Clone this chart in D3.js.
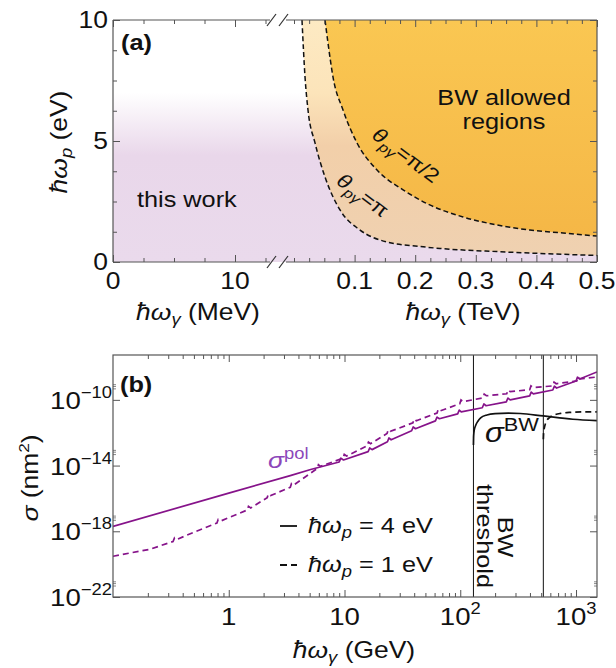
<!DOCTYPE html>
<html>
<head>
<meta charset="utf-8">
<script src="https://cdnjs.cloudflare.com/ajax/libs/d3/7.8.5/d3.min.js"></script>
<style>
  body { margin: 0; background: #fff; }
  svg { display: block; font-family: "Liberation Sans", Arial, sans-serif; }
</style>
</head>
<body>
<script>
// ---- data ----

// (a) boundaries of the BW allowed region: photon energy (TeV), plasmon energy (eV)
const thetaPi = [[0.0132, 10], [0.0182, 7.64], [0.0231, 6.28], [0.0347, 4.92], [0.0512, 3.51],
  [0.0759, 2.15], [0.109, 1.32], [0.153, 0.83], [0.208, 0.64], [0.241, 0.56], [0.335, 0.43], [0.5, 0.27]];
const thetaHalfPi = [[0.0512, 10], [0.0561, 9.05], [0.0644, 7.64], [0.0809, 6.28], [0.104, 4.92],
  [0.137, 3.80], [0.180, 2.98], [0.224, 2.36], [0.279, 1.86], [0.335, 1.53], [0.389, 1.32],
  [0.444, 1.20], [0.5, 1.07]];

// (b) cross sections: photon energy (GeV), log10 sigma (nm^2)
const polOmega4 = [[0.1, -17.70], [1, -15.68], [3.4, -14.61], [5.1, -14.24],
  [9.0, -13.78], [9.3, -13.55], [9.8, -13.66],
  [16.0, -13.15], [16.5, -12.93], [17.3, -13.03],
  [23.5, -12.55], [24.2, -12.32], [25.3, -12.43],
  [38, -11.88], [39.2, -11.65], [41, -11.76],
  [61, -11.28], [63, -11.05], [66, -11.15],
  [95, -10.85], [98, -10.62], [102, -10.73],
  [155, -10.48], [160, -10.25], [167, -10.36],
  [250, -10.12], [258, -9.89], [270, -10.0],
  [398, -9.76], [410, -9.53], [428, -9.64],
  [630, -9.40], [650, -9.17], [680, -9.28],
  [1000, -8.85], [1030, -8.62], [1075, -8.73],
  [1518, -8.30]];
const polOmega1 = [[0.1, -19.52], [0.21, -19.09],
  [0.33, -18.62], [0.34, -18.40], [0.355, -18.50],
  [0.5, -18.06],
  [0.79, -17.50], [0.81, -17.28], [0.85, -17.38],
  [1.45, -16.70], [1.48, -16.48], [1.55, -16.58],
  [2.15, -15.95], [2.2, -15.73], [2.3, -15.83],
  [3.4, -15.32], [3.48, -15.10], [3.62, -15.2],
  [5.8, -14.18], [5.95, -13.95], [6.2, -14.05],
  [9.7, -13.55], [9.95, -13.32], [10.4, -13.42],
  [15.7, -12.80], [16.1, -12.57], [16.8, -12.67],
  [23.3, -12.05], [23.9, -11.82], [24.9, -11.92],
  [39, -11.40], [40, -11.17], [41.7, -11.27],
  [63, -10.80], [64.6, -10.57], [67.3, -10.67],
  [99, -10.24], [101.5, -10.01], [106, -10.11],
  [157, -9.88], [161, -9.65], [168, -9.75],
  [252, -9.63], [259, -9.40], [270, -9.50],
  [398, -9.38], [408, -9.15], [426, -9.25],
  [630, -9.15], [646, -8.92], [674, -9.02],
  [1015, -8.85], [1040, -8.62], [1085, -8.72],
  [1518, -8.61]];
const bwOmega4 = [[130, -12.75], [130.5, -12.2], [132, -11.85], [136, -11.55], [142, -11.3],
  [150, -11.1], [170, -10.92], [200, -10.84], [260, -10.81], [330, -10.83], [520, -10.98],
  [940, -11.18], [1518, -11.27]];
const bwOmega1 = [[522, -12.4], [525, -12.0], [535, -11.65], [555, -11.3], [590, -11.08],
  [650, -10.92], [740, -10.82], [900, -10.76], [1200, -10.73], [1518, -10.73]];
const bwThresholds = [130, 522];

// ticks
const yTicksA = [0, 5, 10];
const yMinorA = [1.25, 2.5, 3.75, 6.25, 7.5, 8.75];
const xTicksMeV = [0, 10];
const xMinorMeV = [2.5, 5, 7.5, 12.5];
const xTicksTeV = [0.1, 0.2, 0.3, 0.4, 0.5];
const xTicksGeV = [1, 10, 100, 1000];
const yTicksSigma = [-22, -18, -14, -10];

// ---- setup ----
const W = 616, H = 668, SX = 1.15;
const svg = d3.select("body").append("svg").attr("width", W).attr("height", H);
const defs = svg.append("defs");

function grad(id, y1, y2, stops) {
  const g = defs.append("linearGradient").attr("id", id).attr("gradientUnits", "userSpaceOnUse")
    .attr("x1", 0).attr("x2", 0).attr("y1", y1).attr("y2", y2);
  stops.forEach(([o, c]) => g.append("stop").attr("offset", o).attr("stop-color", c));
}

// text with a slightly wide face like the original
function txt(parent, x, y, size, opts = {}) {
  const t = parent.append("text")
    .attr("transform", `translate(${x},${y}) rotate(${opts.rotate || 0}) scale(${SX},1)`)
    .attr("font-size", size)
    .attr("text-anchor", opts.anchor || "start")
    .attr("fill", opts.fill || "#111");
  if (opts.weight) t.attr("font-weight", opts.weight);
  return t;
}
function span(t, s, o = {}) {
  const ts = t.append("tspan").text(s);
  if (o.italic) ts.attr("font-style", "italic");
  if (o.size) ts.attr("font-size", o.size);
  if (o.dy) ts.attr("dy", o.dy);
  return ts;
}
function tickLayer(g, axis, pos, scale, vals, size, sw = 1) {
  const a = g.append("g").attr("transform", pos)
    .call(axis(scale).tickValues(vals).tickSize(-size).tickFormat(""));
  a.select(".domain").remove();
  a.selectAll("line").attr("stroke", "#555").attr("stroke-width", sw);
}

// ================= panel (a) =================
const xMeV = d3.scaleLinear().domain([0, 10]).range([113, 235]);
const xTeV = d3.scaleLinear().domain([0, 0.5]).range([294, 597]);
const yA = d3.scaleLinear().domain([0, 10]).range([262, 20]);
const gA = svg.append("g");

grad("gWork", yA(10), yA(0), [[0, "#ffffff"], [0.3, "#ffffff"], [0.56, "#e9d7ea"], [1, "#eadaec"]]);
grad("gBetween", yA(10), yA(0), [[0, "#fdeac3"], [0.3, "#fce4ba"], [0.52, "#f2cfa9"], [1, "#efd1b1"]]);
grad("gOrange", yA(10), yA(0), [[0, "#fac752"], [1, "#f4b545"]]);

gA.append("rect").attr("x", 113).attr("y", yA(10)).attr("width", 597 - 113).attr("height", yA(0) - yA(10))
  .attr("fill", "url(#gWork)");

const areaTop = d3.area().x(d => xTeV(d[0])).y0(d => yA(d[1])).y1(yA(10)).curve(d3.curveMonotoneX);
const lineA = d3.line().x(d => xTeV(d[0])).y(d => yA(d[1])).curve(d3.curveMonotoneX);
gA.append("path").datum(thetaPi).attr("d", areaTop).attr("fill", "url(#gBetween)");
gA.append("path").datum(thetaHalfPi).attr("d", areaTop).attr("fill", "url(#gOrange)");
[thetaPi, thetaHalfPi].forEach(c => {
  gA.append("path").datum(c).attr("d", lineA).attr("fill", "none")
    .attr("stroke", "#111").attr("stroke-width", 1.5).attr("stroke-dasharray", "5,3");
});

// ticks
tickLayer(gA, d3.axisLeft, "translate(113,0)", yA, yTicksA, 7);
tickLayer(gA, d3.axisLeft, "translate(113,0)", yA, yMinorA, 4);
tickLayer(gA, d3.axisRight, "translate(597,0)", yA, yTicksA, 7);
tickLayer(gA, d3.axisRight, "translate(597,0)", yA, yMinorA, 4);
const xMinorTeV = d3.range(0, 0.5, 0.025).filter(v => Math.abs(v * 10 - Math.round(v * 10)) > 1e-6 || v === 0);
[["axisBottom", 262], ["axisTop", 20]].forEach(([ax, y]) => {
  tickLayer(gA, d3[ax], `translate(0,${y})`, xMeV, xTicksMeV, 7);
  tickLayer(gA, d3[ax], `translate(0,${y})`, xMeV, xMinorMeV, 4);
  tickLayer(gA, d3[ax], `translate(0,${y})`, xTeV, xTicksTeV, 7);
  tickLayer(gA, d3[ax], `translate(0,${y})`, xTeV, xMinorTeV, 4);
});

// frame with axis break
const frameA = [[113, 20, 113, 262], [597, 20, 597, 262], [113, 20, 270, 20], [286, 20, 597, 20],
  [113, 262, 270, 262], [286, 262, 597, 262]];
frameA.forEach(([x1, y1, x2, y2]) => gA.append("line").attr("x1", x1).attr("y1", y1).attr("x2", x2).attr("y2", y2)
  .attr("stroke", "#555").attr("stroke-width", 1.2));
[20, 262].forEach(y => {
  [267, 279].forEach(x => gA.append("line").attr("x1", x).attr("y1", y + 6).attr("x2", x + 9).attr("y2", y - 6)
    .attr("stroke", "#333").attr("stroke-width", 1.2));
});

// tick labels
yTicksA.forEach(v => txt(gA, 108, yA(v) + 8, 23, { anchor: "end" }).text(v));
xTicksMeV.forEach(v => txt(gA, xMeV(v), 289, 23, { anchor: "middle" }).text(v));
xTicksTeV.forEach(v => txt(gA, xTeV(v), 289, 23, { anchor: "middle" }).text(d3.format(".1f")(v)));

// titles
let t = txt(gA, 67, 142, 23, { rotate: -90, anchor: "middle" });
span(t, "ħω", { italic: true }); span(t, "p", { italic: true, size: 16, dy: 5 }); span(t, " (eV)", { dy: -5 });
t = txt(gA, 198, 320, 23, { anchor: "middle" });
span(t, "ħω", { italic: true }); span(t, "γ", { italic: true, size: 16, dy: 5 }); span(t, " (MeV)", { dy: -5 });
t = txt(gA, 463, 320, 23, { anchor: "middle" });
span(t, "ħω", { italic: true }); span(t, "γ", { italic: true, size: 16, dy: 5 }); span(t, " (TeV)", { dy: -5 });

txt(gA, 121, 50, 22, { weight: "bold" }).text("(a)");
txt(gA, 137, 207, 22).text("this work");
txt(gA, 504, 105, 22, { anchor: "middle" }).text("BW allowed");
txt(gA, 504, 129, 22, { anchor: "middle" }).text("regions");

t = txt(gA, 406, 155, 20, { rotate: 37, anchor: "middle" }).attr("dy", 7);
span(t, "θ", { italic: true }); span(t, "pγ", { italic: true, size: 14, dy: 5 }); span(t, "=π/2", { dy: -5 });
t = txt(gA, 363, 195, 20, { rotate: 37, anchor: "middle" }).attr("dy", 7);
span(t, "θ", { italic: true }); span(t, "pγ", { italic: true, size: 14, dy: 5 }); span(t, "=π", { dy: -5 });

// ================= panel (b) =================
const xB = d3.scaleLog().domain([0.1, 1518]).range([113, 597]);
const yB = d3.scaleLog().domain([1e-22, Math.pow(10, -7.27)]).range([597, 355]);
const gB = svg.append("g");

defs.append("clipPath").attr("id", "clipB").append("rect")
  .attr("x", 113).attr("y", 355).attr("width", 597 - 113).attr("height", 597 - 355);
const plotB = gB.append("g").attr("clip-path", "url(#clipB)");

const lineB = d3.line().x(d => xB(d[0])).y(d => yB(Math.pow(10, d[1])));
const lineBsmooth = d3.line().x(d => xB(d[0])).y(d => yB(Math.pow(10, d[1]))).curve(d3.curveMonotoneX);

bwThresholds.forEach(e => plotB.append("line").attr("x1", xB(e)).attr("x2", xB(e))
  .attr("y1", yB.range()[0]).attr("y2", yB.range()[1]).attr("stroke", "#111").attr("stroke-width", 1));

const purple = "#86138a";
plotB.append("path").datum(polOmega4).attr("d", lineB).attr("fill", "none")
  .attr("stroke", purple).attr("stroke-width", 1.7).attr("stroke-linejoin", "round");
plotB.append("path").datum(polOmega1).attr("d", lineB).attr("fill", "none")
  .attr("stroke", purple).attr("stroke-width", 1.7).attr("stroke-dasharray", "6,4");
plotB.append("path").datum(bwOmega4).attr("d", lineBsmooth).attr("fill", "none")
  .attr("stroke", "#111").attr("stroke-width", 1.7);
plotB.append("path").datum(bwOmega1).attr("d", lineBsmooth).attr("fill", "none")
  .attr("stroke", "#111").attr("stroke-width", 1.7).attr("stroke-dasharray", "6,4");

// ticks
const xMinorGeV = [];
[0.1, 1, 10, 100, 1000].forEach(d => d3.range(2, 10).forEach(k => { if (k * d < 1518) xMinorGeV.push(k * d); }));
const yMinorSigma = [];
yTicksSigma.forEach(e => [5, 7, 9].forEach(k => yMinorSigma.push(k * Math.pow(10, e))));
const yMajorSigma = yTicksSigma.map(e => Math.pow(10, e));
tickLayer(gB, d3.axisBottom, "translate(0,597)", xB, xTicksGeV, 7);
tickLayer(gB, d3.axisBottom, "translate(0,597)", xB, xMinorGeV, 4);
tickLayer(gB, d3.axisTop, "translate(0,355)", xB, xTicksGeV, 7);
tickLayer(gB, d3.axisTop, "translate(0,355)", xB, xMinorGeV, 4);
tickLayer(gB, d3.axisLeft, "translate(113,0)", yB, yMajorSigma, 7);
tickLayer(gB, d3.axisLeft, "translate(113,0)", yB, yMinorSigma, 3, 0.7);
tickLayer(gB, d3.axisRight, "translate(597,0)", yB, yMajorSigma, 7);
tickLayer(gB, d3.axisRight, "translate(597,0)", yB, yMinorSigma, 3, 0.7);

gB.append("rect").attr("x", 113).attr("y", 355).attr("width", 597 - 113).attr("height", 597 - 355)
  .attr("fill", "none").attr("stroke", "#555").attr("stroke-width", 1.2);

// tick labels
yTicksSigma.forEach(e => {
  const tt = txt(gB, 112, yB(Math.pow(10, e)) + 9, 24, { anchor: "end" });
  span(tt, "10"); span(tt, "−" + Math.abs(e), { size: 16, dy: -11 });
});
xTicksGeV.forEach(v => {
  const tt = txt(gB, xB(v), 625, 24, { anchor: "middle" });
  const p = Math.round(Math.log10(v));
  if (p <= 1) span(tt, String(v));
  else { span(tt, "10"); span(tt, String(p), { size: 16, dy: -11 }); }
});

// titles
t = txt(gB, 38, 478, 23, { rotate: -90, anchor: "middle" });
span(t, "σ", { italic: true }); span(t, " (nm"); span(t, "2", { size: 15, dy: -9 }); span(t, ")", { dy: 9 });
t = txt(gB, 354, 658, 23, { anchor: "middle" });
span(t, "ħω", { italic: true }); span(t, "γ", { italic: true, size: 16, dy: 5 }); span(t, " (GeV)", { dy: -5 });

txt(gB, 120, 392, 22, { weight: "bold" }).text("(b)");

t = txt(gB, 268, 468, 23, { fill: "#8c47ba" });
span(t, "σ", { italic: true }); span(t, "pol", { size: 16, dy: -9 });
t = txt(gB, 485, 442, 27);
span(t, "σ", { italic: true }); span(t, "BW", { size: 19, dy: -11 });

txt(gB, 498, 537, 22, { rotate: 90, anchor: "middle" }).text("BW");
txt(gB, 477, 536, 22, { rotate: 90, anchor: "middle" }).text("threshold");

// legend
const legend = [{ y: 526, dash: null, label: "4 eV" }, { y: 565, dash: "7,4", label: "1 eV" }];
legend.forEach(d => {
  const l = gB.append("line").attr("x1", 280).attr("x2", 297).attr("y1", d.y).attr("y2", d.y)
    .attr("stroke", "#111").attr("stroke-width", 1.8);
  if (d.dash) l.attr("stroke-dasharray", d.dash);
  const tt = txt(gB, 308, d.y + 7, 22);
  span(tt, "ħω", { italic: true }); span(tt, "p", { italic: true, size: 16, dy: 5 }); span(tt, " = " + d.label, { dy: -5 });
});
</script>
</body>
</html>
